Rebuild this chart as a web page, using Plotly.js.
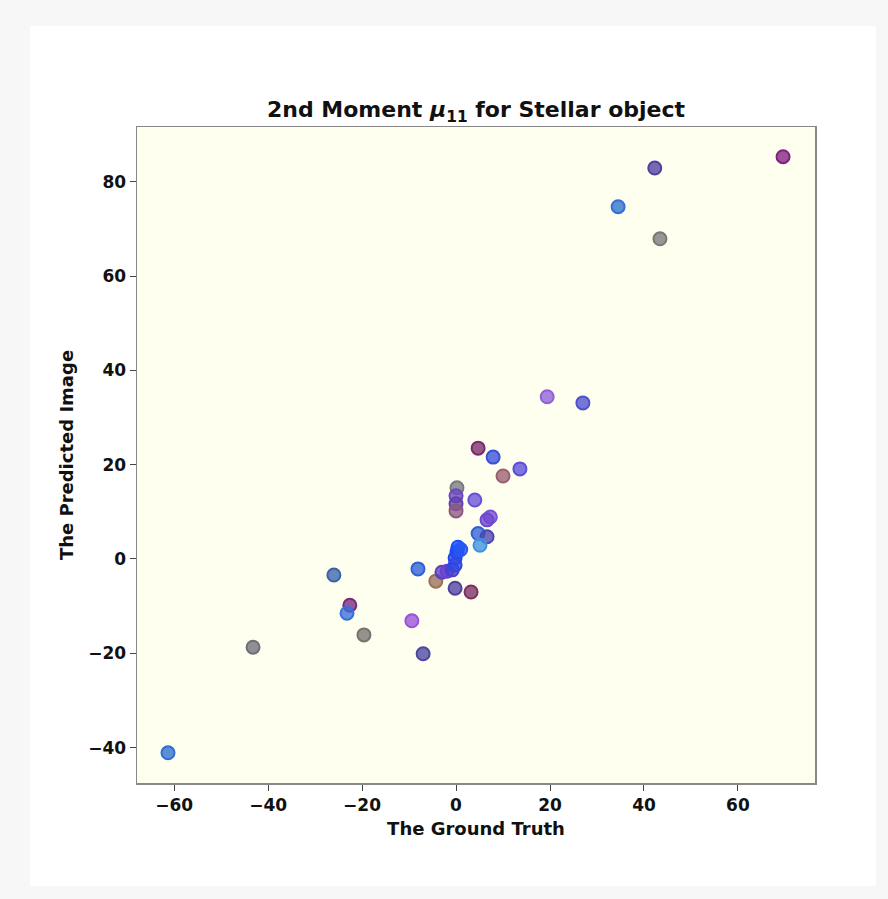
<!DOCTYPE html>
<html>
<head>
<meta charset="utf-8">
<script src="https://cdn.plot.ly/plotly-3.0.1.min.js"></script>
<style>
  html, body { margin:0; padding:0; background:#f7f7f7; }
  #card { position:absolute; left:30px; top:26px; width:846px; height:860px; background:#ffffff; }
  #chart { position:absolute; left:0; top:0; width:888px; height:899px; }
</style>
</head>
<body>
<div id="card"></div>
<div id="chart"></div>
<script>
// Data
const groundTruth = [-61.3, -43.2, -26.0, -22.6, -23.2, -19.6, -9.4, -7.0, -8.1, -4.3,
  -3.0, -1.9, -0.8, -0.2, 3.2, 0.2, 0.0, 0.0, 0.0, 4.0,
  7.3, 6.6, 4.7, 6.6, 5.1, 0.4, 0.2, -0.2, -0.2, 1.0,
  4.7, 7.9, 10.0, 13.6, 19.4, 27.0, 34.5, 42.3, 43.4, 69.6];
const predicted = [-41.1, -18.7, -3.4, -9.8, -11.5, -16.1, -13.1, -20.1, -2.1, -4.7,
  -2.8, -2.6, -2.3, -6.2, -7.0, 15.1, 13.4, 11.7, 10.2, 12.5,
  8.9, 8.3, 5.4, 4.7, 2.9, 2.5, 1.5, 0.2, -1.3, 2.0,
  23.5, 21.6, 17.6, 19.1, 34.4, 33.1, 74.7, 82.9, 67.9, 85.3];
const pointColors = ['#2f6fd0', '#6e6e78', '#3a64a8', '#7a2a7a', '#3a70d8', '#787270', '#9a52d8', '#4a48a0', '#2f5fd8', '#9a7058',
  '#5a40c0', '#6a40d0', '#4a40d0', '#5040a0', '#7a3060', '#7a7a80', '#6a48c0', '#6040b0', '#8a5a80', '#6a50d8',
  '#7a50d8', '#7048d0', '#3060d8', '#4a48b0', '#4090e0', '#1a4cff', '#1a4cff', '#2048f0', '#3048e0', '#2858f0',
  '#7a2a6a', '#3a50d8', '#9a6070', '#5a50d8', '#9060d8', '#5050d0', '#3070d0', '#5040a0', '#787878', '#802080'];
const xTicks = [-60, -40, -20, 0, 20, 40, 60];
const yTicks = [-40, -20, 0, 20, 40, 60, 80];

function withAlpha(hex, a) {
  const r = parseInt(hex.slice(1,3),16), g = parseInt(hex.slice(3,5),16), b = parseInt(hex.slice(5,7),16);
  return 'rgba(' + r + ',' + g + ',' + b + ',' + a + ')';
}

const trace = {
  type: 'scatter',
  mode: 'markers',
  x: groundTruth,
  y: predicted,
  marker: {
    size: 13,
    color: pointColors.map(c => withAlpha(c, 0.78)),
    line: { color: pointColors, width: 2 }
  },
  hoverinfo: 'x+y'
};

const font = { family: 'DejaVu Sans, sans-serif', color: '#111' };

const layout = {
  width: 888, height: 899,
  paper_bgcolor: 'rgba(0,0,0,0)',
  plot_bgcolor: '#fffff0',
  margin: { l: 137, r: 73, t: 127, b: 116 },
  showlegend: false,
  title: {
    text: '<b>2nd Moment <i>μ</i><sub>11</sub> for Stellar object</b>',
    font: Object.assign({}, font, { size: 22 }),
    xref: 'paper', x: 0.5, xanchor: 'center',
    yref: 'container', y: 0.878, yanchor: 'middle'
  },
  xaxis: {
    range: [-67.9, 76.4],
    tickvals: xTicks,
    ticktext: xTicks.map(v => '<b>' + (v < 0 ? '\u2212' + Math.abs(v) : v) + '</b>'),
    ticks: 'outside', ticklen: 6, tickwidth: 1, tickcolor: '#444',
    tickfont: Object.assign({}, font, { size: 17 }),
    showgrid: false, zeroline: false,
    showline: true, linecolor: '#888', linewidth: 1.5, mirror: true,
    title: { text: '<b>The Ground Truth</b>', font: Object.assign({}, font, { size: 18 }), standoff: 8 }
  },
  yaxis: {
    range: [-47.5, 91.6],
    tickvals: yTicks,
    ticktext: yTicks.map(v => '<b>' + (v < 0 ? '\u2212' + Math.abs(v) : v) + '</b>'),
    ticks: 'outside', ticklen: 6, tickwidth: 1, tickcolor: '#444',
    tickfont: Object.assign({}, font, { size: 17 }),
    showgrid: false, zeroline: false,
    showline: true, linecolor: '#888', linewidth: 1.5, mirror: true,
    title: { text: '<b>The Predicted Image</b>', font: Object.assign({}, font, { size: 18 }), standoff: 10 }
  }
};

Plotly.newPlot('chart', [trace], layout, { displayModeBar: false, staticPlot: true });
</script>
</body>
</html>
